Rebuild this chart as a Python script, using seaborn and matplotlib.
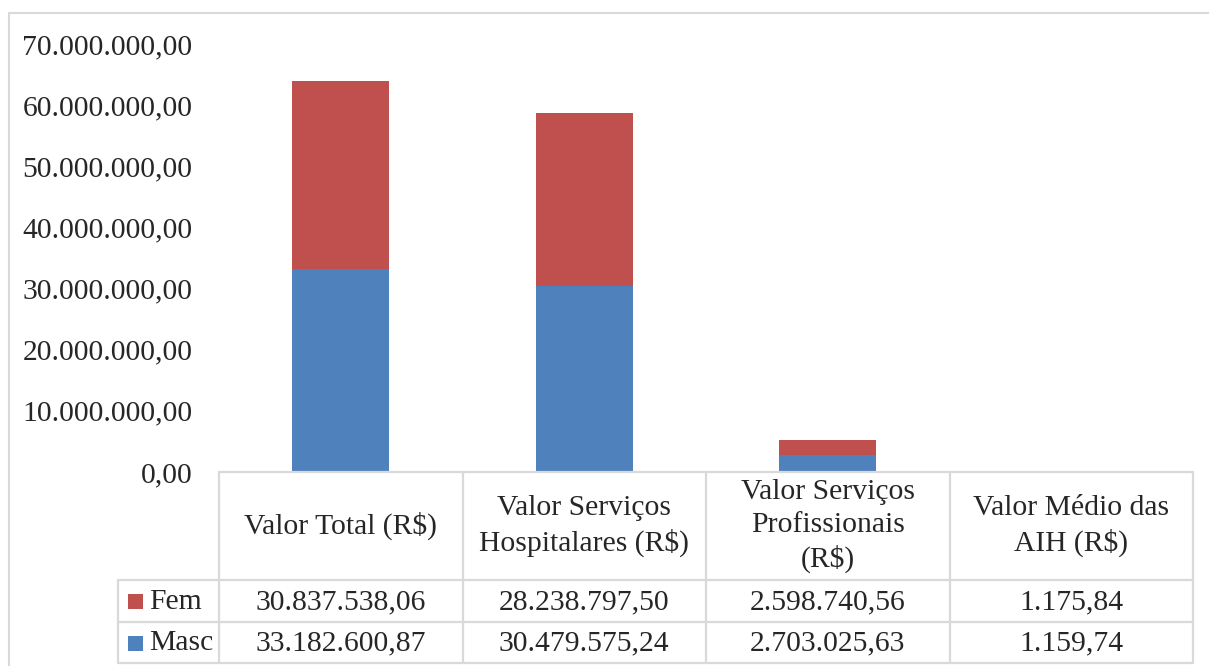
import matplotlib
matplotlib.use("Agg")
import matplotlib.pyplot as plt
import seaborn as sns
import pandas as pd
from matplotlib.ticker import FuncFormatter
from matplotlib.patches import Rectangle
from matplotlib.lines import Line2D

# =============================================================================
# DATA
# =============================================================================
categories = [
    "Valor Total (R$)",
    "Valor Serviços\nHospitalares (R$)",
    "Valor Serviços\nProfissionais\n(R$)",
    "Valor Médio das\nAIH (R$)",
]
fem = [30837538.06, 28238797.50, 2598740.56, 1175.84]
masc = [33182600.87, 30479575.24, 2703025.63, 1159.74]
series_names = ["Fem", "Masc"]
y_ticks = [0, 10e6, 20e6, 30e6, 40e6, 50e6, 60e6, 70e6]

RED = "#C0504D"
BLUE = "#4F81BD"
GRID = "#D9D9D9"
FONT = "Liberation Serif"
FS = 21.3


def br(v):
    # brazilian number format: 1.234.567,89
    return f"{v:,.2f}".replace(",", "X").replace(".", ",").replace("X", ".")


df = pd.DataFrame({"cat": categories, "Fem": fem, "Masc": masc})
df["total"] = df["Fem"] + df["Masc"]

sns.set_style("white")
plt.rcParams["font.family"] = [FONT, "DejaVu Serif"]

W, H = 1209, 666
fig = plt.figure(figsize=(W / 100, H / 100), dpi=100)

# outer chart frame (only top/left visible in the crop)
fig.lines.append(Line2D([9 / W, 1], [1 - 13 / H, 1 - 13 / H], transform=fig.transFigure,
                        color=GRID, linewidth=1.5))
fig.lines.append(Line2D([9 / W, 9 / W], [0, 1 - 13 / H], transform=fig.transFigure,
                        color=GRID, linewidth=1.5))

# =============================================================================
# BARS
# =============================================================================
ax = fig.add_axes([219 / W, (H - 472) / H, 974 / W, (472 - 44) / H])
sns.barplot(data=df, x="cat", y="total", color=RED, width=0.4, linewidth=0,
            saturation=1, ax=ax)
sns.barplot(data=df, x="cat", y="Masc", color=BLUE, width=0.4, linewidth=0,
            saturation=1, ax=ax)
ax.set_xlim(-0.5, len(categories) - 0.5)
ax.set_ylim(0, 70e6)
ax.set_yticks(y_ticks)
ax.yaxis.set_major_formatter(FuncFormatter(lambda v, p: br(v)))
ax.tick_params(axis="y", length=0, pad=19, labelsize=FS)
ax.set_xticks([])
ax.set_xlabel("")
ax.set_ylabel("")
sns.despine(ax=ax, left=True, bottom=True)

# =============================================================================
# DATA TABLE
# =============================================================================
tab = fig.add_axes([219 / W, (H - 663) / H, 974 / W, 191 / H])
tab.set_xlim(-0.5, len(categories) - 0.5)
tab.set_ylim(191, 0)
tab.axis("off")

hdr, r1, r2 = 108, 150, 191
leg_left = -0.5 - 101 / 243.5
lw = 1.6
# horizontal lines
tab.plot([-0.5, 3.5], [0, 0], color=GRID, lw=lw, clip_on=False)
for y in (hdr, r1, r2):
    tab.plot([leg_left, 3.5], [y, y], color=GRID, lw=lw, clip_on=False)
# vertical lines
for x in [-0.5 + i for i in range(len(categories) + 1)]:
    tab.plot([x, x], [0, r2], color=GRID, lw=lw, clip_on=False)
tab.plot([leg_left, leg_left], [hdr, r2], color=GRID, lw=lw, clip_on=False)

for i, cat in enumerate(categories):
    tab.text(i, hdr / 2, cat, ha="center", va="center", fontsize=FS, linespacing=1.32)
    tab.text(i, (hdr + r1) / 2 + 1, br(fem[i]), ha="center", va="center", fontsize=FS)
    tab.text(i, (r1 + r2) / 2 + 1, br(masc[i]), ha="center", va="center", fontsize=FS)

# legend keys in the row header
for name, color, (y0, y1) in zip(series_names, [RED, BLUE], [(hdr, r1), (r1, r2)]):
    yc = (y0 + y1) / 2
    tab.add_patch(Rectangle((leg_left + 10 / 243.5, yc - 7), 15 / 243.5, 15,
                            facecolor=color, edgecolor="none", clip_on=False))
    tab.text(leg_left + 31 / 243.5, yc + 1, name, ha="left", va="center", fontsize=FS)

plt.savefig("out.png", dpi=100)
plt.close(fig)
